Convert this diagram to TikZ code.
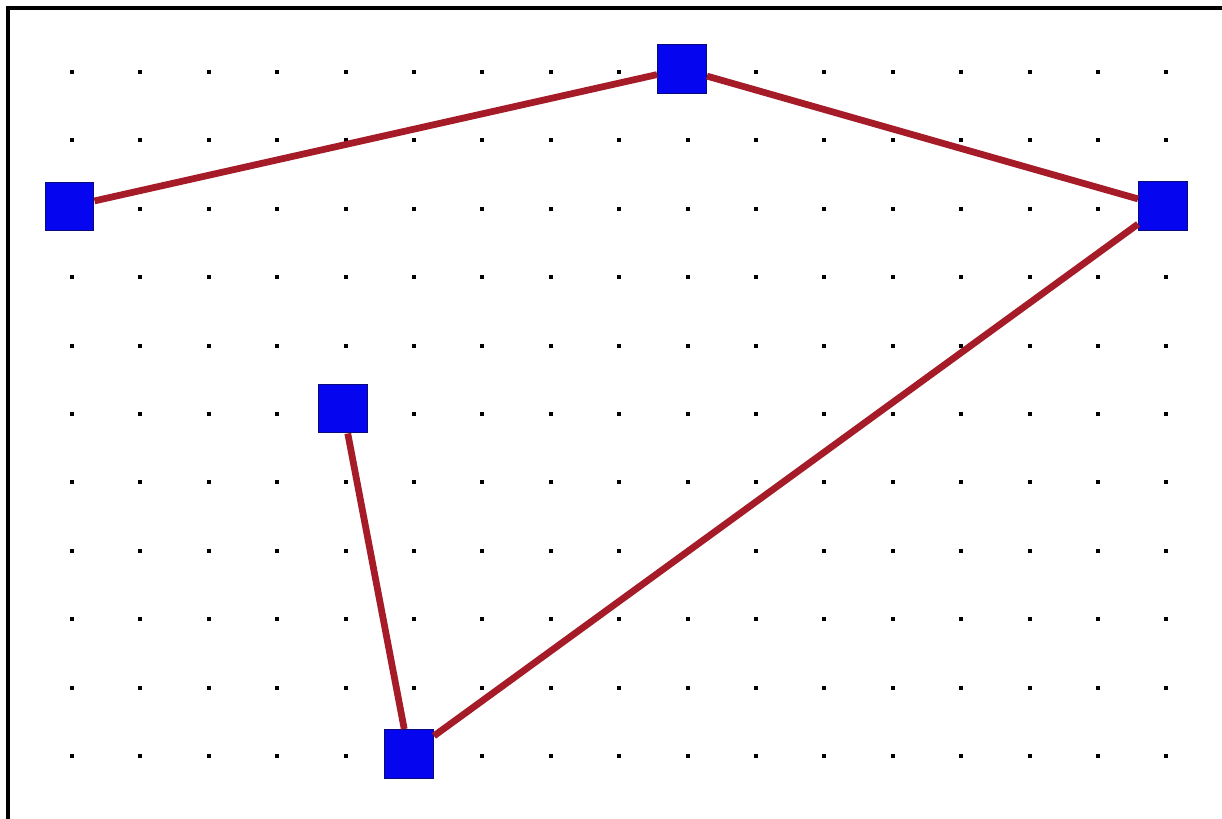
\documentclass[tikz,border=0pt]{standalone}
\usepackage{xcolor}
\usepackage{tikz}
\definecolor{linkred}{RGB}{165,28,40}
\definecolor{boxblue}{RGB}{5,5,240}
\definecolor{boxedge}{RGB}{10,10,120}

\begin{document}
\begin{tikzpicture}[
        x=0.025cm, y=-0.025cm,
        vertex/.style={
            draw=boxedge, fill=boxblue,
            minimum size=1.22cm, inner sep=0pt,
            line width=0.8pt
        },
        link/.style={draw=linkred, line width=4.8pt},
        frame/.style={line width=3.4pt}
    ]
    \useasboundingbox (0,0) rectangle (1222,819);

    % dot grid
    \foreach \i in {0,...,16}
        \foreach \j in {0,...,10}
            \fill (72+68.4*\i-2, 72+68.4*\j-2) rectangle ++(4,4);

    % frame
    \draw[frame] (8,819) -- (8,8) -- (1222,8);

    % vertices
    \node[vertex] (left)  at (69.5,206.5) {};
    \node[vertex] (top)   at (682,69) {};
    \node[vertex] (right) at (1163,206) {};
    \node[vertex] (mid)   at (343,408.5) {};
    \node[vertex] (low)   at (409,754) {};

    % links
    \draw[link] (left) -- (top);
    \draw[link] (top) -- (right);
    \draw[link] (right) -- (low);
    \draw[link] (mid) -- (low);

\end{tikzpicture}
\end{document}
